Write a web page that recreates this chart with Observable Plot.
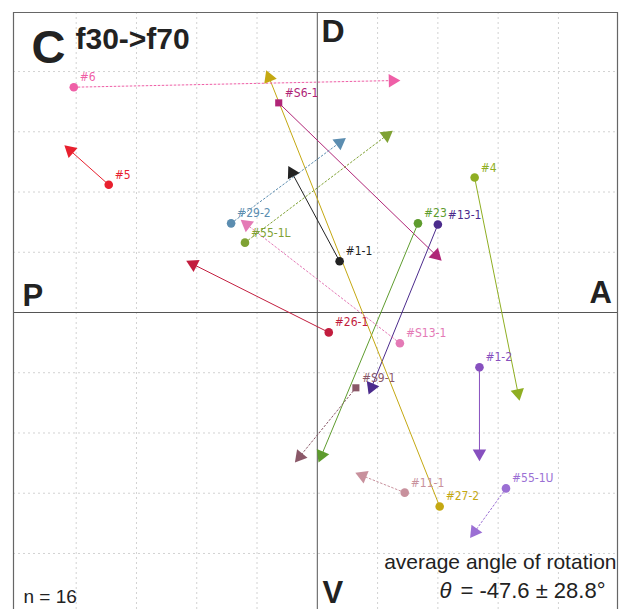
<!DOCTYPE html>
<html>
<head>
<meta charset="utf-8">
<script src="https://cdn.jsdelivr.net/npm/d3@7"></script>
<script src="https://cdn.jsdelivr.net/npm/@observablehq/plot@0.6"></script>
<style>
  html, body { margin: 0; padding: 0; background: #fff; }
  #chart svg { display: block; }
</style>
</head>
<body>
<div id="chart"></div>
<script>
// ---- data ----
const names  = ["#6","#S6-1","#5","#29-2","#55-1L","#1-1","#4","#23","#13-1","#26-1","#S13-1","#S9-1","#1-2","#11-1","#27-2","#55-1U"];
const startX = [-4.04,-0.64,-3.46,-1.43,-1.20, 0.37, 2.61, 1.67, 2.00, 0.19, 1.37, 0.64, 2.69, 1.45, 2.03, 3.13];
const startY = [ 3.74, 3.48, 2.12, 1.48, 1.16, 0.85, 2.24, 1.48, 1.46,-0.33,-0.51,-1.25,-0.91,-2.99,-3.22,-2.92];
const endX   = [ 1.25, 1.97,-4.10, 0.37, 1.15,-0.42, 3.33, 0.07, 0.90,-2.06,-1.17,-0.29, 2.69, 0.75,-0.80, 2.61];
const endY   = [ 3.85, 0.95, 2.69, 2.82, 2.94, 2.32,-1.34,-2.37,-1.24, 0.80, 1.46,-2.39,-2.34,-2.71, 3.90,-3.64];
const colors = ["#ef5fa7","#b02577","#e8202e","#5b8db0","#7fa234","#222222","#8fae22","#5e9c2e","#4b2b8c","#c21d3e","#e47ab6","#8a5868","#8750bf","#c8919d","#c4a812","#9b6fd4"];
const lineStyle = ["dotted","solid","solid","dotted","dotted","solid","solid","solid","solid","solid","dotted","dotted","solid","dotted","solid","dotted"];
const startShape = ["circle","square","circle","circle","circle","circle","circle","circle","circle","circle","circle","square","circle","circle","circle","circle"];
const gridTicks = [-4,-3,-2,-1,1,2,3,4];
const xDomain = [-5.04, 4.98];
const yDomain = [-4.93, 4.98];

const rows = names.map((n, i) => ({
  name: n, x0: startX[i], y0: startY[i], x1: endX[i], y1: endY[i],
  color: colors[i], style: lineStyle[i], shape: startShape[i]
}));
const angle = d => Math.atan2(d.x1 - d.x0, d.y1 - d.y0) * 180 / Math.PI;

const sans = "'Liberation Sans', Arial, Helvetica, sans-serif";
const narrow = "'DejaVu Sans Condensed', 'Liberation Sans Narrow', 'Liberation Sans', sans-serif";

// absolute annotation helper (pixel offsets from the plot's top-left corner)
const ML = 13, MT = 12;
const note = (text, px, py, opts = {}) => Plot.text([text], {
  frameAnchor: "top-left", dx: px - ML, dy: py - MT, text: d => d,
  lineAnchor: "bottom", textAnchor: "start", fontFamily: sans, fill: "#222", ...opts
});
const labelOpts = {x: "x0", y: "y0", text: "name", fill: "color", dy: -6,
  textAnchor: "start", lineAnchor: "bottom", fontSize: 12, fontFamily: narrow};
const crowded = new Set(["#13-1"]);

const chart = Plot.plot({
  width: 633, height: 609,
  marginTop: MT, marginLeft: ML, marginRight: 16, marginBottom: 0,
  x: {domain: xDomain, axis: null},
  y: {domain: yDomain, axis: null},
  style: {background: "white", overflow: "visible"},
  marks: [
    Plot.ruleX(gridTicks, {stroke: "#d2d2d2", strokeDasharray: "2,3", strokeWidth: 1}),
    Plot.ruleY(gridTicks, {stroke: "#d2d2d2", strokeDasharray: "2,3", strokeWidth: 1}),
    Plot.ruleX([0], {stroke: "#555", strokeWidth: 1}),
    Plot.ruleY([0], {stroke: "#555", strokeWidth: 1}),
    Plot.ruleX([xDomain[0], xDomain[1]], {stroke: "#666", strokeWidth: 1.2}),
    Plot.ruleY([yDomain[1]], {stroke: "#666", strokeWidth: 1.2}),
    // arrows
    Plot.link(rows.filter(d => d.style === "solid"), {x1: "x0", y1: "y0", x2: "x1", y2: "y1", stroke: "color", strokeWidth: 1}),
    Plot.link(rows.filter(d => d.style === "dotted"), {x1: "x0", y1: "y0", x2: "x1", y2: "y1", stroke: "color", strokeWidth: 1, strokeDasharray: "2.5,1.5"}),
    Plot.dot(rows, {x: "x1", y: "y1", symbol: "triangle", r: 5, fill: "color", rotate: angle}),
    Plot.dot(rows.filter(d => d.shape === "circle"), {x: "x0", y: "y0", symbol: "circle", r: 4.3, fill: "color"}),
    Plot.dot(rows.filter(d => d.shape === "square"), {x: "x0", y: "y0", symbol: "square", r: 4, fill: "color"}),
    Plot.text(rows.filter(d => !crowded.has(d.name)), {...labelOpts, dx: 6}),
    Plot.text(rows.filter(d => crowded.has(d.name)), {...labelOpts, dx: 10}),
    // annotations
    note("C", 31, 62, {fontSize: 47, fontWeight: "bold"}),
    note("f30->f70", 75, 48, {fontSize: 30, fontWeight: "bold"}),
    note("D", 321, 41, {fontSize: 32, fontWeight: "bold"}),
    note("P", 22, 305, {fontSize: 31, fontWeight: "bold"}),
    note("A", 589, 302, {fontSize: 31, fontWeight: "bold"}),
    note("V", 322, 602, {fontSize: 31, fontWeight: "bold"}),
    note("n = 16", 23, 602, {fontSize: 19}),
    note("average angle of rotation", 616, 568, {fontSize: 21, textAnchor: "end"}),
    note("\u03b8", 439, 597, {fontSize: 22, fontStyle: "italic"}),
    note("= -47.6 \u00b1 28.8\u00b0", 605, 597, {fontSize: 22, textAnchor: "end"})
  ]
});
document.getElementById("chart").appendChild(chart);
</script>
</body>
</html>
